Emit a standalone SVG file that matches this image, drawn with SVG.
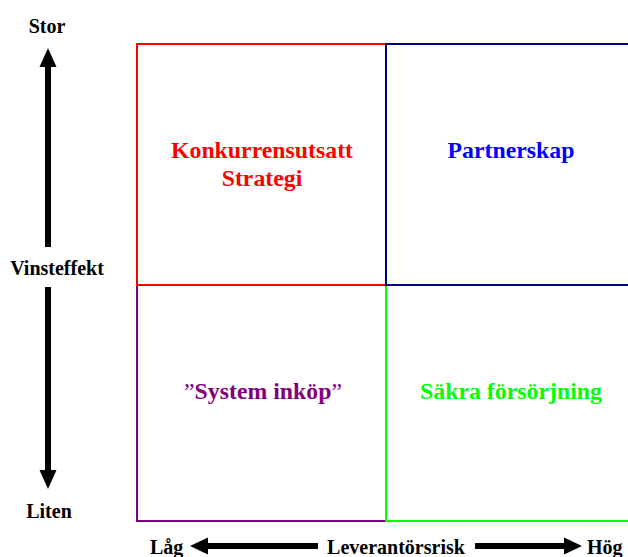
<svg xmlns="http://www.w3.org/2000/svg" width="628" height="557" viewBox="0 0 628 557">
  <style>
    text { font-family: "Liberation Serif", "Times New Roman", serif; font-weight: bold; }
    .axis { font-size: 20px; fill: #000; }
    .quad { font-size: 23.8px; text-anchor: middle; }
    .thin { font-weight: normal; }
    .box { fill: none; stroke-width: 2; }
    .shaft { fill: #000; }
  </style>

  <!-- Quadrants -->
  <g id="q-system">
    <rect class="box" x="137" y="285" width="249" height="236" stroke="#800080"/>
    <text class="quad" x="263" y="399" fill="#800080"><tspan class="thin">”</tspan>System inköp<tspan class="thin">”</tspan></text>
  </g>
  <g id="q-konkurrens">
    <rect class="box" x="137" y="44" width="249" height="241" stroke="#FF0000"/>
    <text class="quad" x="262" y="158" fill="#FF0000">Konkurrensutsatt</text>
    <text class="quad" x="262" y="186" fill="#FF0000">Strategi</text>
  </g>
  <g id="q-sakra">
    <rect class="box" x="386" y="285" width="260" height="236" stroke="#00FF00"/>
    <text class="quad" x="511" y="399" fill="#00FF00">Säkra försörjning</text>
  </g>
  <g id="q-partner">
    <rect class="box" x="386" y="44" width="260" height="241" stroke="#000080"/>
    <text class="quad" x="511" y="158" fill="#0000FF">Partnerskap</text>
  </g>

  <!-- Axes -->
  <g id="axes">
    <!-- vertical: Vinsteffekt -->
    <rect class="shaft" x="45" y="64" width="6" height="183"/>
    <polygon points="48,48 39.5,67 56.5,67" fill="#000"/>
    <rect class="shaft" x="45" y="287" width="6" height="186"/>
    <polygon points="48,489 39.5,470 56.5,470" fill="#000"/>
    <!-- horizontal: Leverantörsrisk -->
    <rect class="shaft" x="205" y="543" width="113" height="6"/>
    <polygon points="190,546 208,537.5 208,554.5" fill="#000"/>
    <rect class="shaft" x="475" y="543" width="90" height="6"/>
    <polygon points="582,546 564,537.5 564,554.5" fill="#000"/>
  </g>

  <g id="axis-labels">
    <text class="axis" x="47" y="33" text-anchor="middle">Stor</text>
    <text class="axis" x="57" y="275" text-anchor="middle">Vinsteffekt</text>
    <text class="axis" x="49" y="518" text-anchor="middle">Liten</text>
    <text class="axis" x="150" y="554">Låg</text>
    <text class="axis" x="396" y="554" text-anchor="middle">Leverantörsrisk</text>
    <text class="axis" x="587" y="554">Hög</text>
  </g>
</svg>
